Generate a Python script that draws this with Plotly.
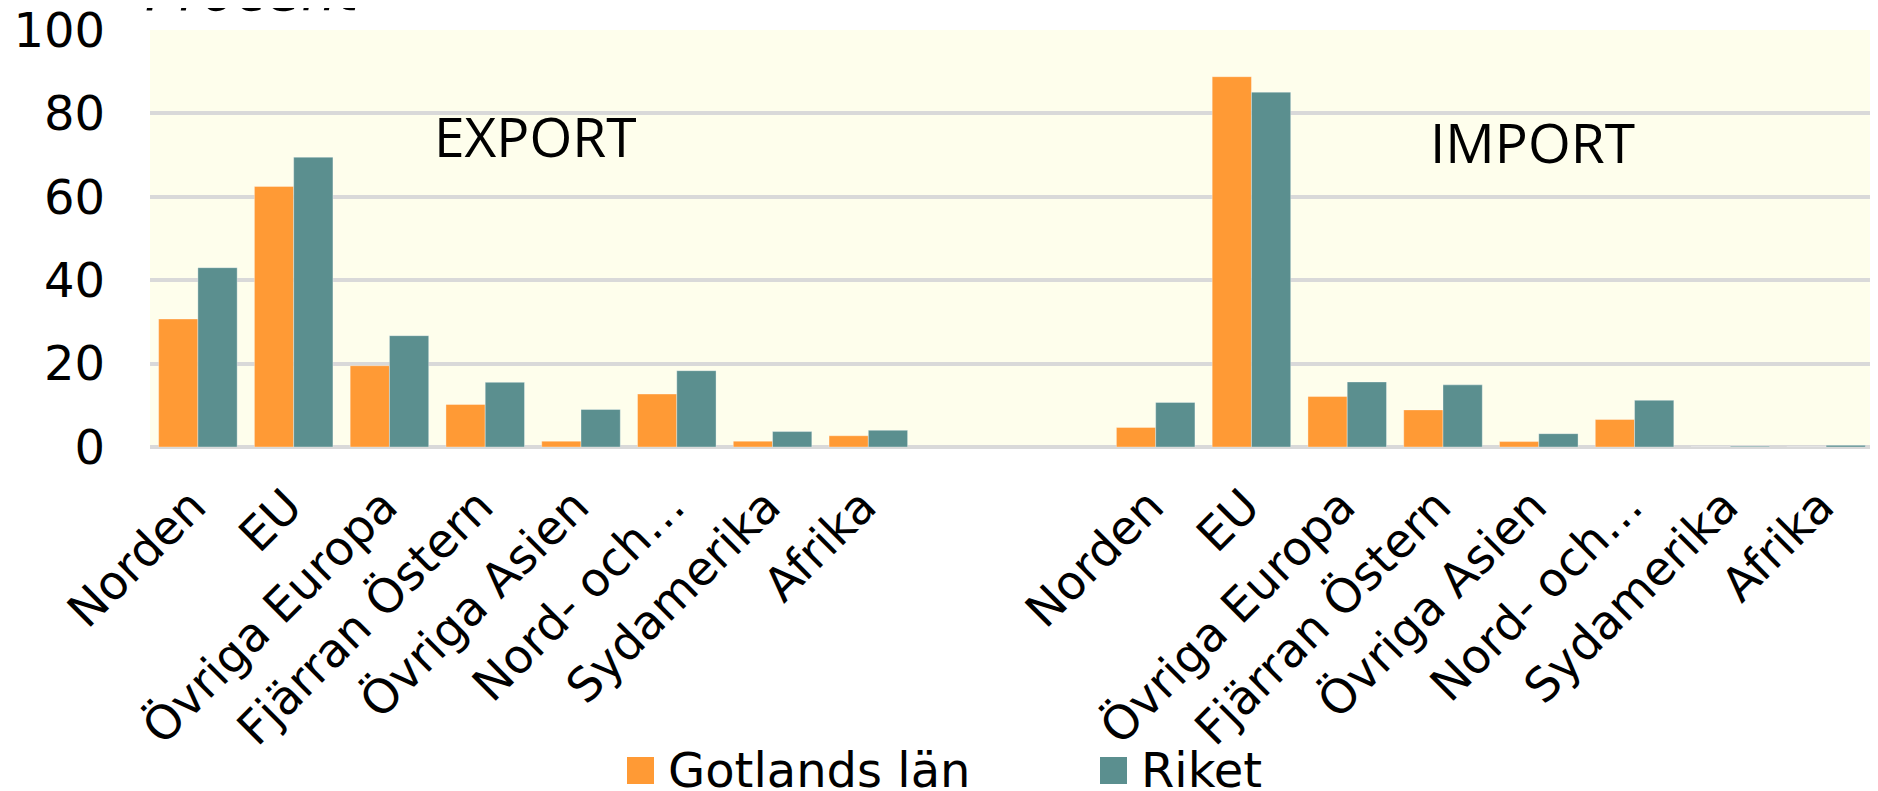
import plotly.graph_objects as go

# ---------------- data ----------------
categories = ["Norden", "EU", "Övriga Europa", "Fjärran Östern", "Övriga Asien",
              "Nord- och…", "Sydamerika", "Afrika"]
export_gotland = [30.7, 62.5, 19.5, 10.2, 1.4, 12.7, 1.4, 2.7]
export_riket = [43.0, 69.5, 26.7, 15.5, 9.0, 18.3, 3.7, 4.0]
import_gotland = [4.7, 88.8, 12.1, 8.9, 1.3, 6.6, 0.0, 0.0]
import_riket = [10.7, 85.1, 15.6, 14.9, 3.2, 11.2, 0.2, 0.4]
series_names = ["Gotlands län", "Riket"]
section_labels = ["EXPORT", "IMPORT"]
y_ticks = [0, 20, 40, 60, 80, 100]
y_title = "Procent"

# ---------------- styling ----------------
OFF = 8                      # page body margin
W, H = 1870, 783
ML, MR, MT, MB = 142, 4, 22, 344
COLORS = ["#FF9A35", "#5B8F8F"]
GRID = "#D9D9D9"
BG = "#FEFEEC"
GAP_SLOTS = 2

n = len(categories)
x_export = list(range(n))
x_import = [n + GAP_SLOTS + i for i in range(n)]
tickvals = x_export + x_import
ticktext = categories + categories

fig = go.Figure()
for name, color, ex, im in zip(series_names, COLORS,
                               [export_gotland, export_riket],
                               [import_gotland, import_riket]):
    fig.add_trace(go.Bar(
        x=tickvals, y=ex + im, name=name,
        marker=dict(color=color, line=dict(color="rgba(255,255,255,0.35)", width=1)),
        showlegend=False,
    ))

# convert screen pixel positions to paper coordinates
def px_x(px):
    return (px - OFF - ML) / (W - ML - MR)

def px_y(py):
    return (H - MB - (py - OFF)) / (H - MT - MB)

annotations = []
shapes = []

# section labels (EXPORT / IMPORT)
section_pos = [(3.52, 74.6), (13.93, 73.3)]
for lab, (sx, sy) in zip(section_labels, section_pos):
    annotations.append(dict(x=sx, y=sy, xref="x", yref="y", text=lab,
                            showarrow=False, xanchor="center", yanchor="middle",
                            font=dict(family="Open Sans", size=55, color="black")))

# cut-off axis title at the top
annotations.append(dict(x=px_x(143), y=px_y(-9), xref="paper", yref="paper",
                        text=y_title, showarrow=False, xanchor="left", yanchor="middle",
                        font=dict(family="DejaVu Sans", size=56, color="black", style="italic")))

# legend (large square swatches)
legend_x = [627, 1100]
legend_y = 770.5
sw = 27
for name, color, lx in zip(series_names, COLORS, legend_x):
    shapes.append(dict(type="rect", xref="paper", yref="paper",
                       x0=px_x(lx), x1=px_x(lx + sw),
                       y0=px_y(legend_y + sw / 2), y1=px_y(legend_y - sw / 2),
                       fillcolor=color, line=dict(width=0)))
    annotations.append(dict(x=px_x(lx + sw + 12), y=px_y(legend_y - 1), xref="paper", yref="paper",
                            text=name, showarrow=False, xanchor="left", yanchor="middle",
                            font=dict(family="DejaVu Sans", size=48, color="black")))

fig.update_layout(
    width=W, height=H,
    margin=dict(l=ML, r=MR, t=MT, b=MB, pad=0, autoexpand=False),
    paper_bgcolor="white", plot_bgcolor=BG,
    barmode="group", bargap=0.18, bargroupgap=0,
    showlegend=False,
    annotations=annotations, shapes=shapes,
    font=dict(family="DejaVu Sans", color="black"),
)
fig.update_xaxes(
    tickmode="array", tickvals=tickvals, ticktext=ticktext,
    range=[-0.5, 2 * n + GAP_SLOTS - 0.5],
    tickangle=-45, tickfont=dict(family="DejaVu Sans", size=47, color="black"),
    showgrid=False, zeroline=False, showline=False, ticks="",
    ticklabelstandoff=21, ticklabelshift=-6, ticklabeloverflow="allow",
    automargin=False,
)
fig.update_yaxes(
    range=[0, 100], tickmode="array", tickvals=y_ticks,
    tickfont=dict(family="DejaVu Sans", size=48, color="black"),
    showgrid=True, gridcolor=GRID, gridwidth=4,
    zeroline=True, zerolinecolor=GRID, zerolinewidth=4,
    showline=False, ticks="", ticklabelstandoff=44, ticklabeloverflow="allow",
    automargin=False,
)

fig.write_html("out.html")
